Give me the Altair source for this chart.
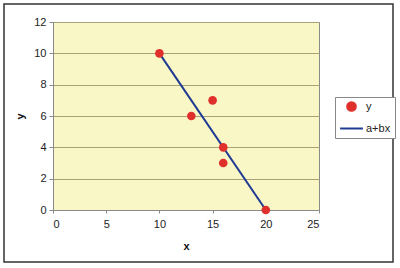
import altair as alt
import pandas as pd

xs = [10, 13, 15, 16, 16, 20]
ys = [10, 6, 7, 4, 3, 0]
fit_x = [10, 20]
fit_y = [10, 0]
series_names = ["y", "a+bx"]
x_ticks = [0, 5, 10, 15, 20, 25]
y_ticks = [0, 2, 4, 6, 8, 10, 12]

pts = pd.DataFrame({"x": xs, "y": ys, "series": series_names[0]})
fit = pd.DataFrame({"x": fit_x, "y": fit_y, "series": series_names[1]})

RED = "#E0302C"
NAVY = "#1F3A93"
FONT = "Liberation Sans"

xenc = alt.X("x:Q", scale=alt.Scale(domain=[0, 25], nice=False),
             axis=alt.Axis(values=x_ticks, title="x", grid=False, tickSize=3,
                           labelPadding=5, titlePadding=11))
yenc = alt.Y("y:Q", scale=alt.Scale(domain=[0, 12], nice=False),
             axis=alt.Axis(values=y_ticks, title="y", grid=True, tickSize=4,
                           labelPadding=3, titlePadding=8, titleAngle=-90))

legend = alt.Legend(title=None, orient="none", legendX=282, legendY=75,
                    strokeColor="#888888", fillColor="white", padding=4,
                    labelFont=FONT, labelFontSize=11, labelColor="#222",
                    symbolStrokeWidth=2, rowPadding=1, labelOffset=2)

fill_scale = alt.Scale(domain=series_names, range=[RED, "transparent"])
stroke_scale = alt.Scale(domain=series_names, range=[RED, NAVY])
shape_scale = alt.Scale(domain=series_names, range=["circle", "stroke"])
size_scale = alt.Scale(domain=series_names, range=[75, 520])

line = alt.Chart(fit).mark_line(strokeWidth=2).encode(
    x=xenc, y=yenc,
    stroke=alt.Stroke("series:N", scale=stroke_scale, legend=legend),
)

points = alt.Chart(pts).mark_point(filled=True, opacity=1, strokeWidth=0).encode(
    x=xenc, y=yenc,
    fill=alt.Fill("series:N", scale=fill_scale, legend=legend),
    stroke=alt.Stroke("series:N", scale=stroke_scale, legend=legend),
    shape=alt.Shape("series:N", scale=shape_scale, legend=legend),
    size=alt.Size("series:N", scale=size_scale, legend=legend),
)

frame = alt.Chart(pd.DataFrame({"v": [0]})).mark_rect(
    fill=None, stroke="#333333", strokeWidth=1.5
).encode(x=alt.value(-49), x2=alt.value(340), y=alt.value(-18), y2=alt.value(240))

chart = alt.layer(line, points, frame).properties(
    width=266, height=188,
    padding={"left": 53, "top": 22, "right": 81, "bottom": 58},
    autosize=alt.AutoSizeParams(type="none"),
    background="white",
).configure_view(
    fill="#FAF7C6", stroke="#8A8A8A", strokeWidth=1
).configure_axis(
    labelFont=FONT, titleFont=FONT, labelFontSize=11, titleFontSize=11,
    labelColor="#222", titleColor="#111", titleFontWeight="bold",
    domainColor="#8A8A8A", tickColor="#8A8A8A", gridColor="#A8A27A",
    gridOpacity=1, gridWidth=1,
)

chart.save("out.html", embed_options={"renderer": "svg", "actions": False})
